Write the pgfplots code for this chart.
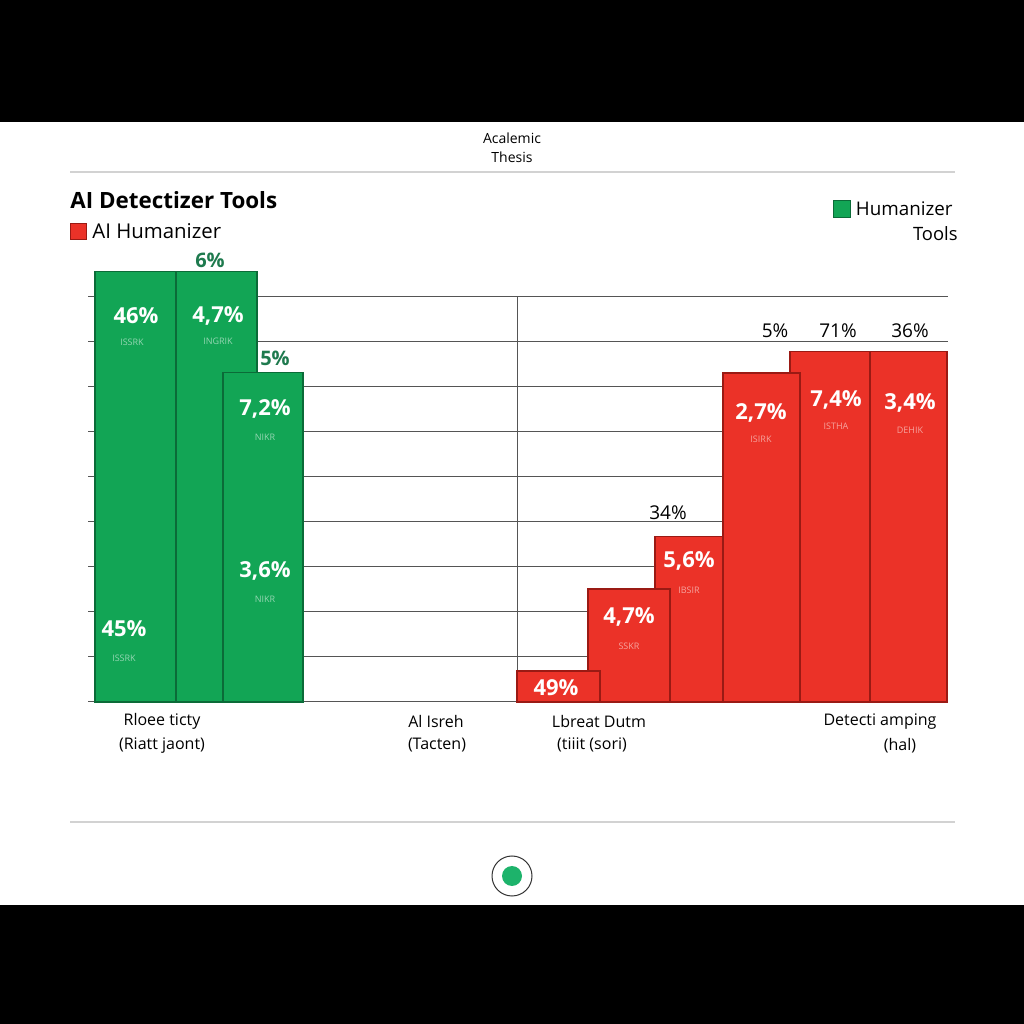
\documentclass[border=0pt]{standalone}
\usepackage{pgfplots}
\pgfplotsset{compat=1.18}
\usepackage{fontspec}
\setmainfont{Open Sans}
\definecolor{gfill}{HTML}{12A555}
\definecolor{gdark}{HTML}{0B6B38}
\definecolor{rfill}{HTML}{EB3228}
\definecolor{rdark}{HTML}{9A1A14}
\definecolor{glab}{HTML}{1E7A4E}
\definecolor{gridc}{HTML}{555555}
\definecolor{dotc}{HTML}{1DB36B}
\begin{document}
\begin{tikzpicture}
\fill[black] (0,0) rectangle (512pt,512pt);
\fill[white] (0,59.5pt) rectangle (512pt,451pt);
% header
\node[font=\fontsize{7}{8}\selectfont] at (256pt,443pt) {Acalemic};
\node[font=\fontsize{7}{8}\selectfont] at (256pt,433.5pt) {Thesis};
\draw[gray!35, line width=0.6pt] (35pt,426pt) -- (477.5pt,426pt);
\node[anchor=west, font=\bfseries\fontsize{11.2}{12}\selectfont, inner sep=0pt] at (35pt,412pt) {AI Detectizer Tools};
\fill[rfill, draw=rdark, line width=0.3pt] (35pt,392.5pt) rectangle (43pt,400.5pt);
\node[anchor=west, font=\fontsize{10.2}{11}\selectfont, inner sep=0pt] at (46pt,396.5pt) {AI Humanizer};
\fill[gfill, draw=gdark, line width=0.3pt] (416.5pt,403.2pt) rectangle (425.2pt,411.8pt);
\node[anchor=east, font=\fontsize{9.4}{11}\selectfont, inner sep=0pt] at (476.5pt,407.5pt) {Humanizer};
\node[anchor=east, font=\fontsize{9.2}{11}\selectfont, inner sep=0pt] at (479pt,395pt) {Tools};
% footer
\draw[gray!35, line width=0.6pt] (35pt,101pt) -- (477.5pt,101pt);
\draw[black!80, line width=0.5pt] (256pt,74pt) circle (10pt);
\fill[dotc] (256pt,74pt) circle (5pt);
\begin{axis}[
  at={(44pt,161pt)}, anchor=south west,
  scale only axis, width=430pt, height=225pt,
  xmin=88, xmax=948, ymin=0, ymax=100,
  axis line style={draw=none},
  xtick=\empty,
  ytick={0,10,...,90}, yticklabels={},
  major tick length=0pt,
  ymajorgrids, grid style={gridc, line width=0.5pt},
  clip=false,
]
\addplot[gridc, line width=0.5pt] coordinates {(517,0) (517,90)};
% green bars (left to right)
\addplot[fill=gfill, draw=gdark, line width=0.6pt] coordinates {(95,0) (95,95.6) (176,95.6) (176,0)} -- cycle;
\addplot[fill=gfill, draw=gdark, line width=0.6pt] coordinates {(176,0) (176,95.6) (257,95.6) (257,0)} -- cycle;
\addplot[fill=gfill, draw=gdark, line width=0.6pt] coordinates {(223,0) (223,73.3) (303,73.3) (303,0)} -- cycle;
% red bars (right to left)
\addplot[fill=rfill, draw=rdark, line width=0.6pt] coordinates {(870,0) (870,77.8) (947,77.8) (947,0)} -- cycle;
\addplot[fill=rfill, draw=rdark, line width=0.6pt] coordinates {(790,0) (790,77.8) (870,77.8) (870,0)} -- cycle;
\addplot[fill=rfill, draw=rdark, line width=0.6pt] coordinates {(723,0) (723,73.1) (800,73.1) (800,0)} -- cycle;
\addplot[fill=rfill, draw=rdark, line width=0.6pt] coordinates {(655,0) (655,36.7) (723,36.7) (723,0)} -- cycle;
\addplot[fill=rfill, draw=rdark, line width=0.6pt] coordinates {(588,0) (588,25.1) (670,25.1) (670,0)} -- cycle;
\addplot[fill=rfill, draw=rdark, line width=0.6pt] coordinates {(517,0) (517,6.9) (600,6.9) (600,0)} -- cycle;
% value labels inside bars
\tikzset{val/.style={text=white, font=\bfseries\fontsize{11}{11}\selectfont, inner sep=0pt},
         gs/.style={text=gfill!45!white, font=\fontsize{4.5}{5}\selectfont, inner sep=0pt},
         rs/.style={text=rfill!45!white, font=\fontsize{4.5}{5}\selectfont, inner sep=0pt}}
\node[val] at (axis cs:136,85.8) {46\%};
\node[gs]  at (axis cs:132,80.0) {ISSRK};
\node[val] at (axis cs:124,16.2) {45\%};
\node[gs]  at (axis cs:124,9.8) {ISSRK};
\node[val] at (axis cs:218,85.8) {4,7\%};
\node[gs]  at (axis cs:218,80.2) {INGRIK};
\node[val] at (axis cs:265,65.1) {7,2\%};
\node[gs]  at (axis cs:265,58.9) {NIKR};
\node[val] at (axis cs:265,29.1) {3,6\%};
\node[gs]  at (axis cs:265,22.9) {NIKR};
\node[val] at (axis cs:556,3.3) {49\%};
\node[val] at (axis cs:629,18.9) {4,7\%};
\node[rs]  at (axis cs:629,12.4) {SSKR};
\node[val] at (axis cs:689,31.3) {5,6\%};
\node[rs]  at (axis cs:689,24.9) {IBSIR};
\node[val] at (axis cs:761,64.2) {2,7\%};
\node[rs]  at (axis cs:761,58.4) {ISIRK};
\node[val] at (axis cs:836,67.1) {7,4\%};
\node[rs]  at (axis cs:836,61.3) {ISTHA};
\node[val] at (axis cs:910,66.4) {3,4\%};
\node[rs]  at (axis cs:910,60.4) {DEHIK};
% labels above bars
\node[text=glab, font=\bfseries\fontsize{10}{11}\selectfont, inner sep=0pt] at (axis cs:210,98.2) {6\%};
\node[text=glab, font=\bfseries\fontsize{10}{11}\selectfont, inner sep=0pt] at (axis cs:275,76.4) {5\%};
\node[font=\fontsize{9.5}{11}\selectfont, inner sep=0pt] at (axis cs:668,42) {34\%};
\node[font=\fontsize{9.5}{11}\selectfont, inner sep=0pt] at (axis cs:775,82.4) {5\%};
\node[font=\fontsize{9.5}{11}\selectfont, inner sep=0pt] at (axis cs:838,82.4) {71\%};
\node[font=\fontsize{9.5}{11}\selectfont, inner sep=0pt] at (axis cs:910,82.4) {36\%};
% category labels
\tikzset{cat/.style={font=\fontsize{8}{9}\selectfont, inner sep=0pt}}
\node[cat] at (axis cs:162,-4.4) {Rloee ticty};
\node[cat] at (axis cs:162,-9.6) {(Riatt jaont)};
\node[cat] at (axis cs:436,-4.4) {Al Isreh};
\node[cat] at (axis cs:437,-9.6) {(Tacten)};
\node[cat] at (axis cs:599,-4.4) {Lbreat Dutm};
\node[cat] at (axis cs:592,-9.6) {(tiiit (sori)};
\node[cat] at (axis cs:880,-4.4) {Detecti amping};
\node[cat] at (axis cs:900,-9.6) {(hal)};
\end{axis}
\end{tikzpicture}
\end{document}
